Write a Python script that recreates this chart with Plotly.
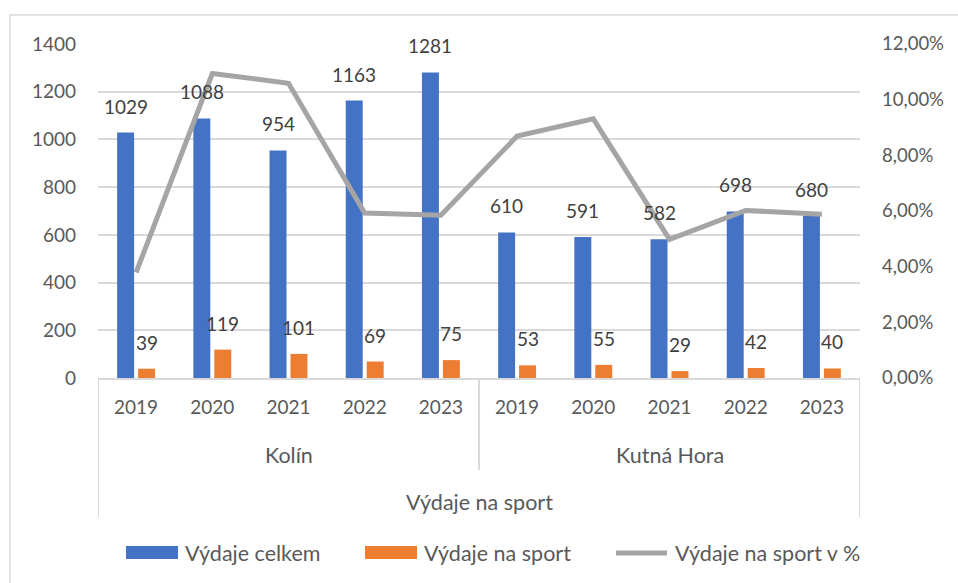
import plotly.graph_objects as go

# ---- data ----
cities = ["Kolín", "Kutná Hora"]
years = ["2019", "2020", "2021", "2022", "2023"]
outer_label = "Výdaje na sport"
total = [1029, 1088, 954, 1163, 1281, 610, 591, 582, 698, 680]
sport = [39, 119, 101, 69, 75, 53, 55, 29, 42, 40]
share = [0.0379, 0.1094, 0.1059, 0.0593, 0.0585, 0.0869, 0.0931, 0.0498, 0.0602, 0.0588]
names = ["Výdaje celkem", "Výdaje na sport", "Výdaje na sport v %"]

BLUE, ORANGE, GRAY = "#4472C4", "#ED7D31", "#A5A5A5"
TXT = "#595959"
FONT = "Lato, 'Open Sans', sans-serif"
NUM = 19    # digits
WORD = 21.5  # words

W, H = 958, 583
L, R, T, B = 98, 98, 44, 205
PH = H - T - B

n = len(total)
xs = list(range(n))
ticktext = years * len(cities)

BARGAP, BARGROUPGAP = 0.45, 0.19
off = (1 - BARGAP) / 4  # center offset of each bar within the group

fig = go.Figure()
fig.add_bar(x=xs, y=total, name=names[0], marker_color=BLUE, marker_line_width=0)
fig.add_bar(x=xs, y=sport, name=names[1], marker_color=ORANGE, marker_line_width=0)
fig.add_scatter(x=xs, y=share, name=names[2], yaxis="y2", mode="lines",
                line=dict(color=GRAY, width=5))

annotations = []
for i in xs:
    annotations.append(dict(x=i - off, y=total[i], xref="x", yref="y", text=str(total[i]),
                            showarrow=False, yanchor="bottom", yshift=13,
                            font=dict(family=FONT, size=NUM, color="#404040")))
    annotations.append(dict(x=i + off, y=sport[i], xref="x", yref="y", text=str(sport[i]),
                            showarrow=False, yanchor="bottom", yshift=13,
                            font=dict(family=FONT, size=NUM, color="#404040")))

def py(p):  # pixel y -> paper y
    return (H - B - p) / PH

def px(p):  # pixel x -> paper x
    return (p - L) / (W - L - R)

# group labels
for k, c in enumerate(cities):
    annotations.append(dict(x=k * len(years) + (len(years) - 1) / 2, y=py(455), xref="x", yref="paper",
                            text=c, showarrow=False, yanchor="middle",
                            font=dict(family=FONT, size=WORD, color=TXT)))
annotations.append(dict(x=(n - 1) / 2, y=py(502), xref="x", yref="paper", text=outer_label,
                        showarrow=False, yanchor="middle", font=dict(family=FONT, size=WORD, color=TXT)))

shapes = []
div = "#D9D9D9"
shapes.append(dict(type="line", xref="x", yref="paper", x0=-0.5, x1=-0.5, y0=0, y1=py(517),
                   line=dict(color=div, width=2)))
shapes.append(dict(type="line", xref="x", yref="paper", x0=n - 0.5, x1=n - 0.5, y0=0, y1=py(517),
                   line=dict(color=div, width=2)))
shapes.append(dict(type="line", xref="x", yref="paper", x0=len(years) - 0.5, x1=len(years) - 0.5,
                   y0=0, y1=py(470), line=dict(color=div, width=2)))
# outer chart border
shapes.append(dict(type="rect", xref="paper", yref="paper",
                   x0=px(10), x1=px(970), y0=py(600), y1=py(15),
                   line=dict(color="#D9D9D9", width=1.5), layer="below"))

# manual legend
leg_y = 553
shapes.append(dict(type="rect", xref="paper", yref="paper", x0=px(126), x1=px(178),
                   y0=py(559), y1=py(546), fillcolor=BLUE, line=dict(width=0)))
shapes.append(dict(type="rect", xref="paper", yref="paper", x0=px(365), x1=px(417),
                   y0=py(559), y1=py(546), fillcolor=ORANGE, line=dict(width=0)))
shapes.append(dict(type="line", xref="paper", yref="paper", x0=px(616), x1=px(667),
                   y0=py(553), y1=py(553), line=dict(color=GRAY, width=5)))
for xpos, t in [(183, names[0]), (422, names[1]), (673, names[2])]:
    annotations.append(dict(x=px(xpos), y=py(leg_y), xref="paper", yref="paper", text=t,
                            showarrow=False, xanchor="left", yanchor="middle",
                            font=dict(family=FONT, size=WORD, color=TXT)))

fig.update_layout(
    width=W, height=H, margin=dict(l=L, r=R, t=T, b=B),
    paper_bgcolor="white", plot_bgcolor="white",
    barmode="group", bargap=BARGAP, bargroupgap=BARGROUPGAP,
    separators=", ",
    showlegend=False,
    font=dict(family=FONT, size=NUM, color=TXT),
    xaxis=dict(range=[-0.5, n - 0.5], tickmode="array", tickvals=xs, ticktext=ticktext,
               showgrid=False, zeroline=False, showline=True, linecolor="#D9D9D9", linewidth=2,
               ticks="", ticklabelstandoff=11, tickfont=dict(family=FONT, size=NUM, color=TXT)),
    yaxis=dict(range=[0, 1400], dtick=200, showgrid=True, gridcolor="#D9D9D9", gridwidth=1.5,
               zeroline=False, showline=False, ticks="", ticklabelstandoff=21,
               tickfont=dict(family=FONT, size=NUM, color=TXT)),
    yaxis2=dict(range=[0, 0.12], dtick=0.02, tickformat=".2%", overlaying="y", side="right",
                showgrid=False, zeroline=False, showline=False, ticks="", ticklabelstandoff=21,
                tickfont=dict(family=FONT, size=18.5, color=TXT)),
    annotations=annotations, shapes=shapes,
)

fig.write_html("out.html", config={"displayModeBar": False},
               post_script="document.body.style.margin='0';")
